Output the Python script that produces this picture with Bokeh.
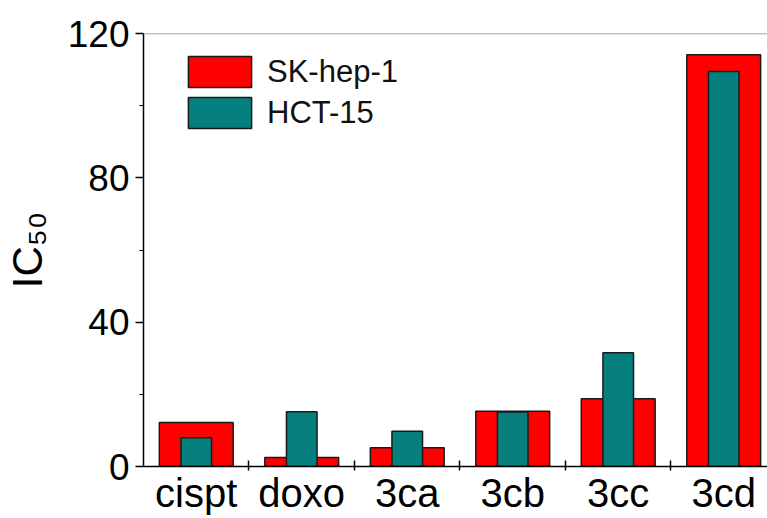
from bokeh.plotting import figure
from bokeh.models import FixedTicker, Span, Legend, LegendItem
from bokeh.embed import file_html
from bokeh.resources import INLINE

categories = ["cispt", "doxo", "3ca", "3cb", "3cc", "3cd"]
sk_hep1 = [12.2, 2.5, 5.2, 15.3, 18.8, 114.1]
hct15 = [8.0, 15.2, 9.8, 15.1, 31.5, 109.5]
y_major = [0, 40, 80, 120]
y_minor = [20, 60, 100]

xs = list(range(1, len(categories) + 1))
FONT = "Liberation Sans"

p = figure(width=767, height=518, x_range=(0.5, 6.415), y_range=(0, 120),
           output_backend="svg", toolbar_location=None,
           min_border_left=142, min_border_top=33, min_border_bottom=52,
           min_border_right=0)
p.outline_line_color = None
p.xgrid.visible = False
p.ygrid.visible = False

r1 = p.vbar(x=xs, top=sk_hep1, width=0.70, bottom=0,
            fill_color="#FF0000", line_color="#1a1a1a", line_width=1.5)
r2 = p.vbar(x=xs, top=hct15, width=0.29, bottom=0,
            fill_color="#067F7F", line_color="#1a1a1a", line_width=1.5)

p.add_layout(Span(location=y_major[-1], dimension="width",
                  line_color="#8a8a8a", line_width=1.5))

# x axis
xa = p.xaxis[0]
xa.ticker = FixedTicker(ticks=xs, minor_ticks=[x + 0.5 for x in xs[:-1]])
xa.major_label_overrides = {x: c for x, c in zip(xs, categories)}
xa.major_tick_in = 0
xa.major_tick_out = 0
xa.minor_tick_in = 6
xa.minor_tick_out = 4
xa.minor_tick_line_width = 1.5
xa.axis_line_width = 1.5
xa.axis_line_color = "black"
xa.major_label_text_font = FONT
xa.major_label_text_font_size = "40px"
xa.major_label_text_color = "black"
xa.major_label_standoff = 0

# y axis
ya = p.yaxis[0]
ya.ticker = FixedTicker(ticks=y_major, minor_ticks=y_minor)
ya.major_tick_in = 0
ya.major_tick_out = 8
ya.minor_tick_in = 0
ya.minor_tick_out = 4
ya.major_tick_line_width = 1.5
ya.axis_line_width = 1.5
ya.axis_line_color = "black"
ya.major_label_text_font = FONT
ya.major_label_text_font_size = "37px"
ya.major_label_text_color = "black"
ya.major_label_standoff = 6
ya.axis_label = "IC\u2085\u2080"
ya.axis_label_text_font = FONT
ya.axis_label_text_font_size = "42px"
ya.axis_label_text_font_style = "normal"
ya.axis_label_text_color = "black"
ya.axis_label_standoff = 14

legend = Legend(items=[LegendItem(label="SK-hep-1", renderers=[r1]),
                       LegendItem(label="HCT-15", renderers=[r2])],
                location=(37, 334), glyph_width=79, glyph_height=39,
                label_text_font=FONT, label_text_font_size="31px",
                label_text_color="#111111",
                label_standoff=8, spacing=2, padding=0, margin=0,
                border_line_color=None, background_fill_alpha=0)
p.add_layout(legend)

open("out.html", "w").write(file_html(p, INLINE))
